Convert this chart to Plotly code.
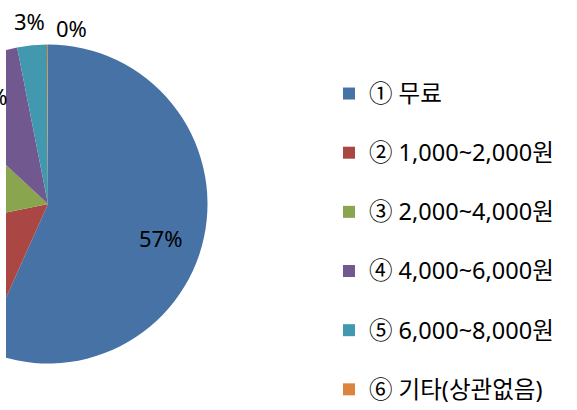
import plotly.graph_objects as go

# ---- data ----
categories = ["① 무료", "② 1,000~2,000원", "③ 2,000~4,000원",
              "④ 4,000~6,000원", "⑤ 6,000~8,000원", "⑥ 기타(상관없음)"]
shares = [56.7, 15.1, 15.1, 10.0, 3.0, 0.1]
colors = ["#4672A6", "#AA4643", "#89A54E", "#71588F", "#4198AF", "#DB843D"]

# ---- geometry (page pixels) ----
SHIFT = 130                     # figure is shifted left so the pie is cropped
W, H = 577 + SHIFT, 410
CX, CY, R = 48, 204, 159.5      # pie centre / radius as seen on the page
FONT = "Noto Sans, Noto Sans CJK KR"

def px(x):      # page x -> paper fraction
    return (x + SHIFT) / W

def py(y):      # page y (from top) -> paper fraction
    return (H - y) / H

total = sum(shares)
pct = [f"{round(v / total * 100)}%" for v in shares]
# every legend entry except the last gets an empty second line for spacing
legend_labels = ['<span style="font-size:23.5px">' + c + "</span>"
                 + ("<br>\u00a0" if i < len(categories) - 1 else "")
                 for i, c in enumerate(categories)]

fig = go.Figure(go.Pie(
    labels=legend_labels,
    values=shares,
    sort=False,
    direction="clockwise",
    rotation=0,
    marker=dict(colors=colors, line=dict(width=0)),
    textinfo="none",
    hoverinfo="percent",
    domain=dict(x=[px(CX - R), px(CX + R)], y=[py(CY + R), py(CY - R)]),
))

# data labels that are visible in the cropped view (blue, purple, teal, orange)
label_pos = {0: (160, 238, "center"), 3: (9, 96, "right"),
             4: (29.5, 21, "center"), 5: (71, 28, "center")}
annotations = []
for i, (x, y, anchor) in label_pos.items():
    annotations.append(dict(x=px(x), y=py(y), xref="paper", yref="paper",
                            text=pct[i], showarrow=False, xanchor=anchor, yanchor="middle",
                            font=dict(family=FONT, size=22, color="#000000")))

fig.update_layout(
    width=W, height=H,
    margin=dict(l=0, r=0, t=0, b=0),
    paper_bgcolor="white", plot_bgcolor="white",
    showlegend=True,
    legend=dict(x=px(329), y=0, xanchor="left", yanchor="bottom",
                font=dict(family=FONT, size=21.6, color="#000000"),
                valign="top", itemwidth=30, bgcolor="rgba(0,0,0,0)"),
    annotations=annotations,
    shapes=[dict(type="rect", xref="paper", yref="paper", layer="above",
                 x0=0, x1=px(6), y0=0, y1=1, fillcolor="white",
                 line=dict(width=0))],
)

post = """
document.body.style.margin='0';
document.body.style.overflow='hidden';
var gd=document.getElementById('{plot_id}');
gd.style.marginLeft='-130px';
"""
fig.write_html("out.html", post_script=post, config={"displayModeBar": False})
